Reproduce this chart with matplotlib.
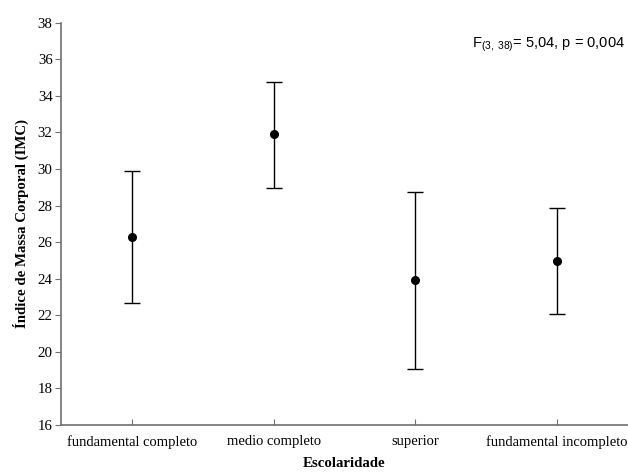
import numpy as np
import matplotlib
matplotlib.use("Agg")
import matplotlib.pyplot as plt

categorias = ["fundamental completo", "medio completo", "superior", "fundamental incompleto"]
media = [26.29, 31.89, 23.92, 24.97]
limite_inf = [22.68, 28.94, 19.04, 22.06]
limite_sup = [29.88, 34.75, 28.73, 27.84]

serif = ["Liberation Serif", "DejaVu Serif"]
sans = ["Liberation Sans", "DejaVu Sans"]

plt.rcParams["mathtext.fontset"] = "custom"
plt.rcParams["mathtext.rm"] = "Liberation Sans"
plt.rcParams["mathtext.it"] = "Liberation Sans"

fig = plt.figure(figsize=(6.28, 4.72), dpi=100)
ax = fig.add_axes([61 / 628, 1 - 425 / 472, 1 - 61 / 628, (425 - 22.7) / 472])

x = np.arange(len(categorias))
m = np.array(media)
err = [m - np.array(limite_inf), np.array(limite_sup) - m]
ax.errorbar(x, m, yerr=err, fmt="o", color="black", ms=5.5, capsize=5.5,
            elinewidth=1, capthick=1)

ax.set_xlim(-0.5, 3.5)
ax.set_ylim(16, 38)
ax.set_yticks(np.arange(16, 39, 2))
ax.set_xticks(x)
ax.set_xticklabels(categorias, family=serif, fontsize=10.5)
for lbl in ax.get_yticklabels():
    lbl.set_family(serif)
    lbl.set_fontsize(10.7)

for s in ["top", "right"]:
    ax.spines[s].set_visible(False)
for s in ["left", "bottom"]:
    ax.spines[s].set_color("#707070")
    ax.spines[s].set_linewidth(1.2)
ax.tick_params(axis="y", direction="out", length=4, color="#707070", pad=2)
ax.tick_params(axis="x", direction="in", length=4, color="#707070", pad=7)

ax.set_xlabel("Escolaridade", family=serif, fontsize=10.7, fontweight="bold", labelpad=6)
ax.set_ylabel("Índice de Massa Corporal (IMC)", family=serif, fontsize=10.7,
              fontweight="bold", labelpad=6)

ax.text(0.995, 0.945, r"F$_{(3,\ 38)}$= 5,04, p = 0,004", transform=ax.transAxes,
        ha="right", va="center", family=sans, fontsize=10.5)

fig.savefig("out.png", dpi=100)
